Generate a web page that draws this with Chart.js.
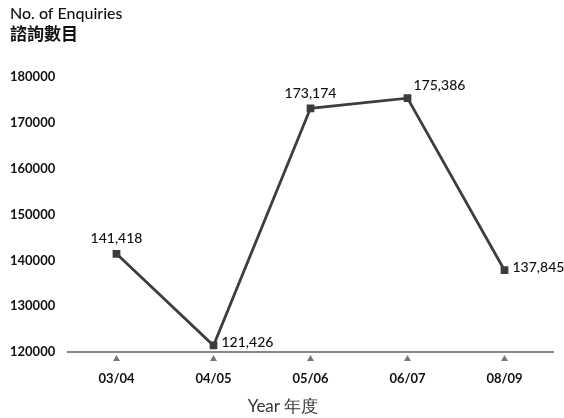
<!DOCTYPE html>
<html>
<head>
<meta charset="utf-8">
<script src="https://cdn.jsdelivr.net/npm/chart.js@4.4.1/dist/chart.umd.min.js"></script>
<style>
  html, body { margin: 0; padding: 0; background: #fff; }
  #wrap { width: 564px; height: 418px; position: relative; }
</style>
</head>
<body>
<div id="wrap"><canvas id="chart" width="564" height="418"></canvas></div>
<script>
const years = ['03/04', '04/05', '05/06', '06/07', '08/09'];
const enquiries = [141418, 121426, 173174, 175386, 137845];
const yTicks = [120000, 130000, 140000, 150000, 160000, 170000, 180000];

// where each value label sits relative to its point
const labelSide = ['top', 'right', 'top', 'topRight', 'right'];

const FONT = 'Lato, "DejaVu Sans", sans-serif';

const extras = {
  id: 'extras',
  afterDatasetsDraw(chart) {
    const ctx = chart.ctx;
    const x = chart.scales.x;
    const y = chart.scales.y;
    const meta = chart.getDatasetMeta(0);
    ctx.save();

    // little triangles under the axis
    ctx.fillStyle = '#777';
    years.forEach((_, i) => {
      const px = x.getPixelForValue(i);
      const py = y.bottom + 3;
      ctx.beginPath();
      ctx.moveTo(px, py);
      ctx.lineTo(px - 3.5, py + 6);
      ctx.lineTo(px + 3.5, py + 6);
      ctx.closePath();
      ctx.fill();
    });

    // value labels
    ctx.fillStyle = '#111';
    ctx.font = '500 14px ' + FONT;
    meta.data.forEach((pt, i) => {
      const txt = enquiries[i].toLocaleString('en-US');
      const side = labelSide[i];
      if (side === 'top') {
        ctx.textAlign = 'center';
        ctx.textBaseline = 'bottom';
        ctx.fillText(txt, pt.x, pt.y - 8);
      } else if (side === 'topRight') {
        ctx.textAlign = 'left';
        ctx.textBaseline = 'bottom';
        ctx.fillText(txt, pt.x + 6, pt.y - 6);
      } else {
        ctx.textAlign = 'left';
        ctx.textBaseline = 'middle';
        ctx.fillText(txt, pt.x + 8, pt.y - 3);
      }
    });

    // titles
    ctx.fillStyle = '#111';
    ctx.textAlign = 'left';
    ctx.textBaseline = 'middle';
    ctx.font = '500 16px ' + FONT;
    ctx.fillText('No. of Enquiries', 10, 14);
    ctx.font = 'bold 17px "Noto Sans CJK TC", sans-serif';
    ctx.fillText('諮詢數目', 10, 34);
    ctx.font = '17px ' + FONT;
    ctx.fillStyle = '#333';
    ctx.textAlign = 'center';
    ctx.fillText('Year 年度', 283, 407);
    ctx.restore();
  }
};

new Chart(document.getElementById('chart'), {
  type: 'line',
  data: {
    labels: years,
    datasets: [{
      data: enquiries,
      borderColor: '#3d3d3d',
      borderWidth: 2.8,
      pointStyle: 'rect',
      pointRadius: 3.5,
      pointBackgroundColor: '#3d3d3d',
      pointBorderColor: '#3d3d3d',
      tension: 0,
      clip: false
    }]
  },
  options: {
    responsive: false,
    animation: false,
    layout: { padding: { top: 77, right: 11, left: 10, bottom: 0 } },
    plugins: { legend: { display: false }, tooltip: { enabled: false } },
    scales: {
      x: {
        offset: true,
        grid: { display: false },
        border: { display: true, color: '#888', width: 2 },
        ticks: {
          padding: 11,
          color: '#111',
          font: { family: FONT, size: 13, weight: 'bold' }
        },
        afterFit(s) { s.height = 66; }
      },
      y: {
        min: 120000,
        max: 180000,
        afterBuildTicks(s) { s.ticks = yTicks.map(v => ({ value: v })); },
        grid: { display: false },
        border: { display: false },
        ticks: {
          crossAlign: 'far',
          color: '#111',
          font: { family: FONT, size: 13, weight: 'bold' },
          callback: v => String(v)
        },
        afterFit(s) { s.width = 58; }
      }
    }
  },
  plugins: [extras]
});
</script>
</body>
</html>
